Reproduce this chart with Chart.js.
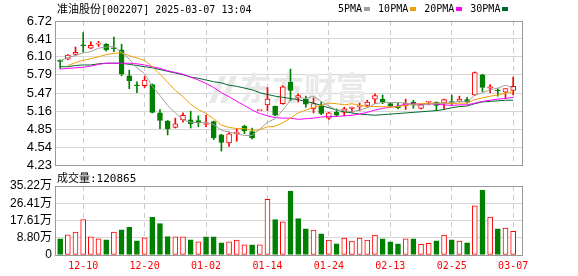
<!DOCTYPE html>
<html>
<head>
<meta charset="utf-8">
<script src="https://cdn.jsdelivr.net/npm/chart.js@4.4.1/dist/chart.umd.min.js"></script>
<style>
    body { margin: 0; background: #fff; }
    #wrap { position: relative; width: 578px; height: 276px; overflow: hidden; }
    canvas { position: absolute; left: 0; }
    .txt { position: absolute; white-space: nowrap; color: #000; line-height: 12px; }
    .mono { font-family: 'DejaVu Sans Mono', monospace; font-size: 10px; }
    .cjk { font-family: 'Noto Sans CJK SC', sans-serif; font-size: 11px; }
    .sw { display: inline-block; width: 6px; height: 4px; margin: 0 8px 1px 2px; vertical-align: middle; }
</style>
</head>
<body>
<div id="wrap">
    <canvas id="kChart" width="578" height="170" style="top:0"></canvas>
    <canvas id="volChart" width="578" height="108" style="top:168px"></canvas>
    <div class="txt" style="left:57px;top:2px"><span class="cjk">准油股份</span><span class="mono">[002207] 2025-03-07 13:04</span></div>
    <div class="txt mono" id="legend" style="left:338px;top:3px"></div>
    <div class="txt" id="volTitle" style="left:57px;top:171px"></div>
</div>
<script>
// --- data ---
const dateLabels = ['12-10', '12-20', '01-02', '01-14', '01-24', '02-13', '02-25', '03-07'];
const dateIndex = [3, 11, 19, 27, 35, 43, 51, 59];

const openPrice = [6.04, 6.06, 6.14, 6.30, 6.25, 6.32, 6.32, 6.25, 6.22, 5.77,
    5.61, 5.60, 5.62, 5.13, 4.99, 4.88, 5.01, 5.01, 5.00, 4.93,
    4.98, 4.75, 4.61, 4.77, 4.90, 4.81, 5.17, 5.27, 5.25, 5.29,
    5.66, 5.39, 5.37, 5.20, 5.25, 5.04, 5.14, 5.14, 5.21, 5.24,
    5.26, 5.37, 5.37, 5.29, 5.24, 5.25, 5.32, 5.21, 5.32, 5.32,
    5.30, 5.32, 5.33, 5.36, 5.44, 5.79, 5.56, 5.52, 5.49, 5.52];
const highPrice = [6.05, 6.14, 6.27, 6.52, 6.36, 6.37, 6.33, 6.44, 6.32, 5.87,
    5.67, 5.76, 5.63, 5.19, 5.00, 5.04, 5.13, 5.16, 5.08, 5.09,
    4.99, 4.76, 4.80, 4.86, 4.92, 4.87, 5.17, 5.57, 5.25, 5.60,
    5.89, 5.46, 5.42, 5.39, 5.32, 5.14, 5.20, 5.23, 5.23, 5.30,
    5.35, 5.46, 5.44, 5.30, 5.31, 5.37, 5.35, 5.28, 5.33, 5.32,
    5.37, 5.44, 5.42, 5.40, 5.84, 5.80, 5.62, 5.55, 5.55, 5.75];
const lowPrice = [5.90, 6.05, 6.13, 6.18, 6.24, 6.28, 6.20, 6.19, 5.77, 5.55,
    5.48, 5.57, 5.13, 4.86, 4.75, 4.87, 4.97, 4.87, 4.89, 4.89,
    4.67, 4.47, 4.55, 4.64, 4.77, 4.68, 5.17, 5.17, 5.08, 5.28,
    5.34, 5.32, 5.23, 5.13, 5.10, 5.02, 5.07, 5.08, 5.14, 5.17,
    5.23, 5.29, 5.29, 5.24, 5.20, 5.19, 5.21, 5.20, 5.27, 5.17,
    5.19, 5.27, 5.32, 5.30, 5.43, 5.50, 5.48, 5.42, 5.38, 5.44];
const closePrice = [6.02, 6.13, 6.18, 6.29, 6.30, 6.33, 6.22, 6.24, 5.80, 5.69,
    5.60, 5.70, 5.14, 5.00, 4.86, 4.94, 5.09, 4.94, 4.96, 4.94,
    4.70, 4.62, 4.77, 4.80, 4.82, 4.70, 5.17, 5.37, 5.09, 5.58,
    5.52, 5.43, 5.28, 5.29, 5.12, 5.13, 5.09, 5.20, 5.23, 5.25,
    5.32, 5.43, 5.32, 5.25, 5.22, 5.30, 5.27, 5.28, 5.33, 5.26,
    5.36, 5.31, 5.37, 5.32, 5.83, 5.57, 5.58, 5.51, 5.55, 5.59];

// volume in 万 (last one = 120865)
const volume = [8.25, 10.3, 11.7, 18.05, 9.3, 8.25, 7.7, 11.7, 12.9, 14.1,
    7.2, 8.8, 19.2, 16.0, 9.45, 9.3, 9.3, 7.7, 6.7, 9.3,
    9.3, 6.2, 6.7, 7.6, 5.2, 5.2, 5.2, 28.4, 18.05, 16.9,
    32.6, 18.6, 13.4, 12.7, 10.8, 7.6, 5.7, 8.6, 7.1, 8.6,
    7.6, 10.2, 8.25, 6.7, 5.7, 8.25, 8.25, 5.5, 6.0, 7.2,
    10.2, 7.7, 7.1, 6.2, 25.1, 33.0, 19.4, 13.4, 13.7, 12.09];
const lastVolume = 120865;

const ma5 = [6.03, 6.09, 6.12, 6.17, 6.19, 6.25, 6.27, 6.28, 6.18, 6.06,
    5.91, 5.81, 5.59, 5.43, 5.26, 5.13, 5.01, 4.97, 4.96, 4.97,
    4.93, 4.83, 4.80, 4.77, 4.74, 4.74, 4.85, 4.97, 5.03, 5.18,
    5.35, 5.40, 5.38, 5.42, 5.33, 5.25, 5.18, 5.17, 5.15, 5.18,
    5.22, 5.29, 5.31, 5.31, 5.31, 5.30, 5.27, 5.26, 5.28, 5.29,
    5.30, 5.31, 5.33, 5.32, 5.44, 5.48, 5.53, 5.56, 5.61, 5.56];
const ma10 = [null, 5.95, 6.00, 6.04, 6.07, 6.10, 6.14, 6.16, 6.17, 6.12,
    6.08, 6.04, 5.93, 5.80, 5.66, 5.52, 5.41, 5.28, 5.19, 5.12,
    5.03, 4.92, 4.88, 4.86, 4.86, 4.83, 4.84, 4.89, 4.90, 4.96,
    5.04, 5.13, 5.18, 5.23, 5.26, 5.30, 5.29, 5.27, 5.29, 5.26,
    5.24, 5.24, 5.24, 5.23, 5.24, 5.26, 5.28, 5.29, 5.30, 5.30,
    5.30, 5.29, 5.30, 5.30, 5.36, 5.39, 5.42, 5.44, 5.47, 5.50];
const ma20 = [5.89, 5.90, 5.91, 5.92, 5.94, 5.97, 5.99, 5.99, 5.99, 5.99,
    5.98, 5.96, 5.93, 5.90, 5.86, 5.83, 5.80, 5.75, 5.70, 5.64,
    5.57, 5.48, 5.41, 5.33, 5.26, 5.18, 5.12, 5.08, 5.05, 5.04,
    5.04, 5.02, 5.03, 5.04, 5.06, 5.07, 5.07, 5.08, 5.09, 5.11,
    5.14, 5.18, 5.21, 5.23, 5.25, 5.28, 5.29, 5.28, 5.29, 5.28,
    5.27, 5.26, 5.27, 5.27, 5.30, 5.33, 5.35, 5.37, 5.38, 5.40];
const ma30 = [5.93, 5.93, 5.95, 5.96, 5.96, 5.98, 5.99, 5.99, 5.99, 5.97,
    5.95, 5.93, 5.91, 5.88, 5.85, 5.82, 5.79, 5.75, 5.73, 5.70,
    5.67, 5.65, 5.61, 5.59, 5.56, 5.53, 5.48, 5.45, 5.42, 5.40,
    5.38, 5.36, 5.33, 5.30, 5.26, 5.22, 5.18, 5.15, 5.13, 5.11,
    5.10, 5.09, 5.10, 5.11, 5.12, 5.13, 5.14, 5.15, 5.16, 5.17,
    5.19, 5.22, 5.24, 5.25, 5.29, 5.32, 5.33, 5.34, 5.35, 5.35];

const priceTicks = [4.23, 4.54, 4.85, 5.16, 5.47, 5.79, 6.10, 6.41, 6.72];
const volTicks = [0, 8.80, 17.61, 26.41, 35.22];

const maNames = ['5PMA', '10PMA', '20PMA', '30PMA'];
const maColors = ['#a0a0a0', '#f0a000', '#ff00ff', '#00682f'];

// --- colours ---
const UP = '#ff0000';
const DOWN = '#008000';

const candleUp = closePrice.map((c, i) => c >= openPrice[i]);
// volume colour follows close vs previous close
const volUp = closePrice.map((c, i) => i === 0 ? candleUp[0] : c >= closePrice[i - 1]);

const idx = closePrice.map((c, i) => i);

// --- legend / labels ---
const legend = document.getElementById('legend');
maNames.forEach((name, i) => {
    legend.innerHTML += name + '<span class="sw" style="background:' + maColors[i] + '"></span>';
});
document.getElementById('volTitle').innerHTML =
    '<span class="cjk">成交量</span><span class="mono" style="font-size:11px">:' + lastVolume + '</span>';

// --- plugins ---
const frame = {
    id: 'frame',
    afterDraw(chart) {
        const { ctx, chartArea: a } = chart;
        ctx.save();
        ctx.strokeStyle = '#999';
        ctx.lineWidth = 1;
        ctx.strokeRect(a.left + 0.5, a.top + 0.5, a.right - a.left, a.bottom - a.top);
        ctx.restore();
    }
};

const watermark = {
    id: 'watermark',
    beforeDatasetsDraw(chart) {
        const ctx = chart.ctx;
        ctx.save();
        ctx.fillStyle = '#e8e8e8';
        // little logo strokes
        ctx.beginPath();
        ctx.moveTo(209, 103); ctx.lineTo(220, 76); ctx.lineTo(226, 76); ctx.lineTo(215, 103);
        ctx.closePath();
        ctx.moveTo(220, 103); ctx.lineTo(231, 76); ctx.lineTo(237, 76); ctx.lineTo(226, 103);
        ctx.closePath();
        ctx.fill();
        ctx.font = 'bold 32px "Noto Sans CJK SC"';
        ctx.textBaseline = 'middle';
        ctx.fillText('东方财富', 240, 88);
        ctx.restore();
    }
};

// shared x axis setup
function xAxis(showLabels) {
    return {
        type: 'linear',
        min: -0.67,
        max: 60.15,
        offset: false,
        grid: { color: '#cccccc', lineWidth: 1, drawTicks: false, offset: false },
        border: { display: false, dash: [5, 4] },
        afterBuildTicks: s => { s.ticks = dateIndex.map(v => ({ value: v })); },
        afterFit: s => { s.height = showLabels ? 21 : 0; s.paddingLeft = 0; s.paddingRight = 0; },
        ticks: {
            display: showLabels,
            autoSkip: false,
            maxRotation: 0,
            padding: 5,
            color: '#ff0000',
            font: { family: "'DejaVu Sans Mono', monospace", size: 10 },
            callback: (v, i) => dateLabels[i]
        }
    };
}

// --- price chart ---
new Chart(document.getElementById('kChart'), {
    type: 'bar',
    data: {
        datasets: [
            ...[ma5, ma10, ma20, ma30].map((m, k) => ({
                type: 'line',
                label: maNames[k],
                data: m.map((v, i) => ({ x: i, y: v })),
                borderColor: maColors[k],
                borderWidth: 1,
                pointRadius: 0,
                tension: 0,
                order: 0
            })),
            {
                label: 'body',
                data: idx.map(i => ({ x: i, y: [openPrice[i], closePrice[i]] })),
                backgroundColor: idx.map(i => candleUp[i] ? '#ffffff' : DOWN),
                borderColor: idx.map(i => candleUp[i] ? UP : DOWN),
                borderWidth: 1,
                borderSkipped: false,
                barThickness: 5,
                minBarLength: 1,
                grouped: false,
                order: 1
            },
            {
                label: 'wick',
                data: idx.map(i => ({ x: i, y: [lowPrice[i], highPrice[i]] })),
                backgroundColor: idx.map(i => candleUp[i] ? UP : DOWN),
                borderWidth: 0,
                barThickness: 1,
                grouped: false,
                order: 2
            }
        ]
    },
    options: {
        responsive: false,
        animation: false,
        events: [],
        layout: { padding: { top: 21, right: 56, bottom: 5, left: 0 } },
        plugins: { legend: { display: false }, tooltip: { enabled: false } },
        scales: {
            x: xAxis(false),
            y: {
                min: 4.23,
                max: 6.72,
                grid: { color: '#d6d6d6', lineWidth: 1, drawTicks: false },
                border: { display: false },
                afterBuildTicks: s => { s.ticks = priceTicks.map(v => ({ value: v })); },
                afterFit: s => { s.width = 55; s.paddingTop = 0; s.paddingBottom = 0; },
                ticks: {
                    autoSkip: false,
                    padding: 3,
                    color: '#000',
                    font: { family: "'Liberation Sans', Arial", size: 13 },
                    callback: v => v.toFixed(2)
                }
            }
        }
    },
    plugins: [watermark, frame]
});

// --- volume chart ---
new Chart(document.getElementById('volChart'), {
    type: 'bar',
    data: {
        datasets: [{
            label: 'volume',
            data: idx.map(i => ({ x: i, y: volume[i] })),
            backgroundColor: idx.map(i => volUp[i] ? '#ffffff' : DOWN),
            borderColor: idx.map(i => volUp[i] ? UP : DOWN),
            borderWidth: 1,
            borderSkipped: false,
            barThickness: 5,
            grouped: false
        }]
    },
    options: {
        responsive: false,
        animation: false,
        events: [],
        layout: { padding: { top: 18, right: 56, bottom: 0, left: 0 } },
        plugins: { legend: { display: false }, tooltip: { enabled: false } },
        scales: {
            x: xAxis(true),
            y: {
                min: 0,
                max: 35.22,
                grid: { color: '#d6d6d6', lineWidth: 1, drawTicks: false },
                border: { display: false },
                afterBuildTicks: s => { s.ticks = volTicks.map(v => ({ value: v })); },
                afterFit: s => { s.width = 55; s.paddingTop = 0; s.paddingBottom = 0; },
                ticks: {
                    autoSkip: false,
                    padding: 3,
                    color: '#000',
                    font: { family: "'Liberation Sans', Arial, 'Noto Sans CJK SC'", size: 12 },
                    callback: v => v === 0 ? '0' : v.toFixed(2) + '万'
                }
            }
        }
    },
    plugins: [frame]
});
</script>
</body>
</html>
